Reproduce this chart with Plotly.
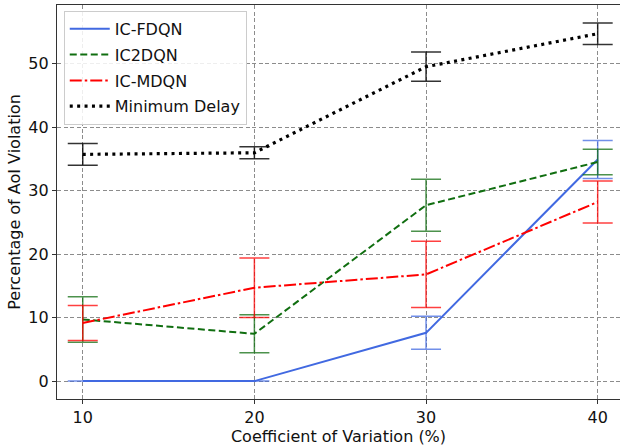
import plotly.graph_objects as go

cv = [10, 20, 30, 40]
fdqn_mean = [0.0, 0.0, 7.6, 34.9]
fdqn_err = [0.0, 0.0, 2.6, 3.0]
c2dqn_mean = [9.7, 7.45, 27.7, 34.5]
c2dqn_err = [3.6, 3.0, 4.1, 2.0]
mdqn_mean = [9.15, 14.7, 16.8, 28.2]
mdqn_err = [2.75, 4.7, 5.2, 3.3]
mind_mean = [35.7, 35.95, 49.5, 54.7]
mind_err = [1.7, 0.95, 2.3, 1.7]
x_ticks = [10, 20, 30, 40]
y_ticks = [0, 10, 20, 30, 40, 50]

series = [
    ("IC-FDQN", fdqn_mean, fdqn_err, "#4169E1", "rgba(65,105,225,0.75)", "solid", 2),
    ("IC2DQN", c2dqn_mean, c2dqn_err, "#106e10", "rgba(16,110,16,0.75)", "7px,3.5px", 2),
    ("IC-MDQN", mdqn_mean, mdqn_err, "#ff0000", "rgba(255,0,0,0.75)", "12px,3px,2.5px,3px", 2),
    ("Minimum Delay", mind_mean, mind_err, "#000000", "rgba(0,0,0,0.8)", "3px,4.4px", 3.2),
]

fig = go.Figure()
for name, m, e, col, ecol, dash, lw in series:
    fig.add_trace(go.Scatter(
        x=cv, y=m, name=name, mode="lines", legendgroup=name,
        line=dict(color=col, width=lw, dash=dash),
        error_y=dict(type="data", array=e, visible=True, color=ecol,
                     thickness=1.5, width=15),
    ))

font = "DejaVu Sans"
axis_common = dict(
    showgrid=True, gridcolor="#8c8c8c", griddash="4px,2.5px", gridwidth=0.8,
    showline=True, linecolor="#333", linewidth=1.2, mirror=True,
    ticks="outside", ticklen=4, tickcolor="#333",
    tickfont=dict(family=font, size=16, color="#111"), zeroline=False,
)
fig.update_layout(
    width=620, height=446,
    margin=dict(l=57, r=0, t=5, b=47),
    paper_bgcolor="white", plot_bgcolor="white",
    font=dict(family=font, size=15, color="#222"),
    showlegend=True,
    legend=dict(x=0.012, y=0.985, xanchor="left", yanchor="top",
                bgcolor="rgba(255,255,255,0.85)", bordercolor="#cccccc",
                borderwidth=1, font=dict(family=font, size=16, color="#111"),
                traceorder="grouped", tracegroupgap=2, itemwidth=40),
    xaxis=dict(range=[8.5, 41.3], tickvals=x_ticks, ticktext=[str(v) for v in x_ticks],
               title=dict(text="Coefficient of Variation (%)", standoff=6,
                          font=dict(family=font, size=16, color="#111")),
               **axis_common),
    yaxis=dict(range=[-2.82, 59.22], tickvals=y_ticks, ticktext=[str(v) for v in y_ticks],
               title=dict(text="Percentage of AoI Violation", standoff=3,
                          font=dict(family=font, size=16, color="#111")),
               **axis_common),
)

fig.write_html("out.html")
